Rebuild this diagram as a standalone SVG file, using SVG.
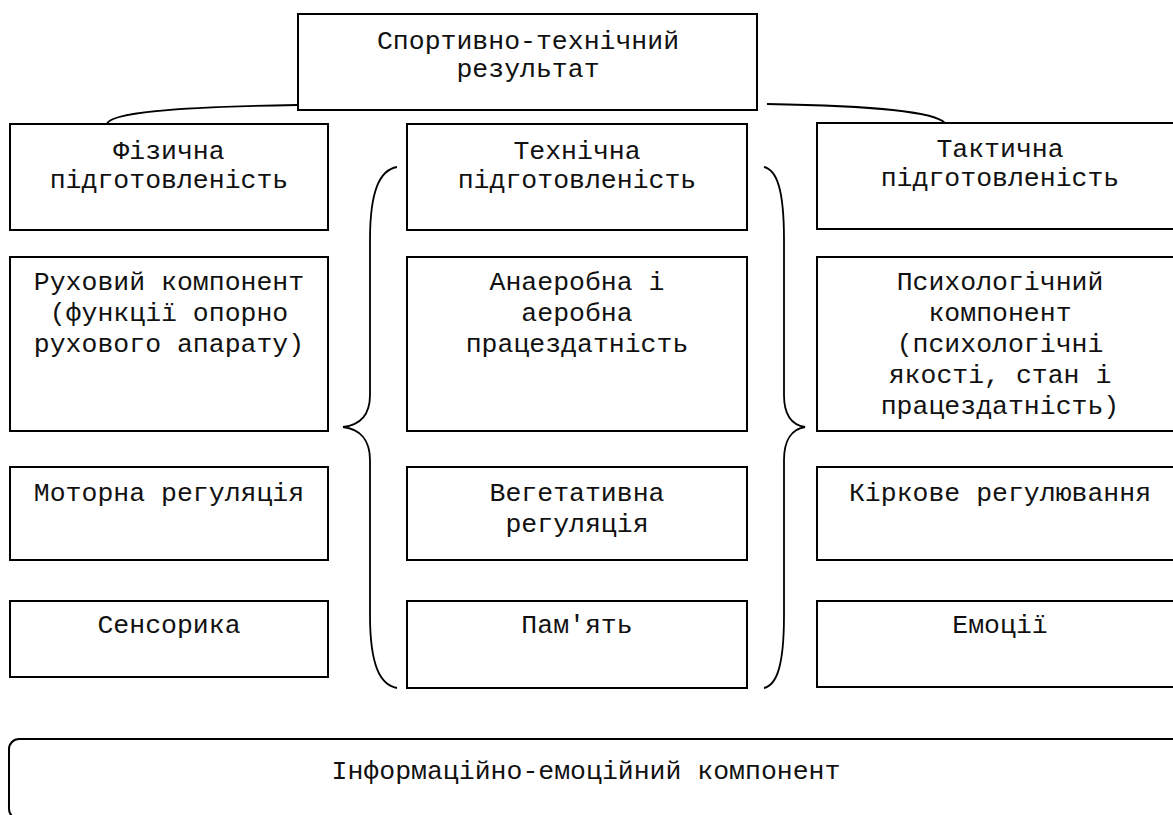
<svg xmlns="http://www.w3.org/2000/svg" width="1173" height="815" viewBox="0 0 1173 815">
<style>
.box{fill:#fff;stroke:#000;stroke-width:2}
.ln{fill:none;stroke:#000;stroke-width:1.8}
.t{font-family:"Liberation Mono","Courier New",monospace;font-size:26.5px;fill:#111;text-anchor:middle}
</style>
<rect width="1173" height="815" fill="#fff"/>
<g id="connectors">
<path class="ln" d="M297,105 C170,107 110,113 107,124"/>
<path class="ln" d="M767,104 C880,106 935,112 945,123"/>
<path class="ln" d="M397,167 C380,170 370,190 370,240 L370,395 C370,415 360,425 343,427 C360,429 370,440 370,460 L370,615 C370,665 380,685 397,688"/>
<path class="ln" d="M764,167 C777,170 784,190 784,240 L784,395 C784,415 792,425 805,427 C792,429 784,440 784,460 L784,615 C784,665 777,685 764,688"/>
</g>
<g id="result">
<rect class="box" x="298" y="14" width="459" height="96"/>
<text class="t" x="528" y="49">Спортивно-технічний</text>
<text class="t" x="528" y="77">результат</text>
</g>
<g id="physical">
<rect class="box" x="10" y="124" width="318" height="106"/>
<text class="t" x="169" y="159">Фізична</text>
<text class="t" x="169" y="188">підготовленість</text>
</g>
<g id="technical">
<rect class="box" x="407" y="124" width="340" height="106"/>
<text class="t" x="577" y="159">Технічна</text>
<text class="t" x="577" y="188">підготовленість</text>
</g>
<g id="tactical">
<rect class="box" x="817" y="123" width="370" height="106"/>
<text class="t" x="1000" y="157">Тактична</text>
<text class="t" x="1000" y="186">підготовленість</text>
</g>
<g id="motor">
<rect class="box" x="10" y="257" width="318" height="174"/>
<text class="t" x="169" y="290">Руховий компонент</text>
<text class="t" x="169" y="321">(функції опорно</text>
<text class="t" x="169" y="352">рухового апарату)</text>
</g>
<g id="aerobic">
<rect class="box" x="407" y="257" width="340" height="174"/>
<text class="t" x="577" y="290">Анаеробна і</text>
<text class="t" x="577" y="321">аеробна</text>
<text class="t" x="577" y="352">працездатність</text>
</g>
<g id="psych">
<rect class="box" x="817" y="257" width="370" height="174"/>
<text class="t" x="1000" y="290">Психологічний</text>
<text class="t" x="1000" y="321">компонент</text>
<text class="t" x="1000" y="352">(психологічні</text>
<text class="t" x="1000" y="383">якості, стан і</text>
<text class="t" x="1000" y="414">працездатність)</text>
</g>
<g id="motor-reg">
<rect class="box" x="10" y="467" width="318" height="93"/>
<text class="t" x="169" y="501">Моторна регуляція</text>
</g>
<g id="veget-reg">
<rect class="box" x="407" y="467" width="340" height="93"/>
<text class="t" x="577" y="501">Вегетативна</text>
<text class="t" x="577" y="532">регуляція</text>
</g>
<g id="cortical">
<rect class="box" x="817" y="467" width="370" height="93"/>
<text class="t" x="1000" y="501">Кіркове регулювання</text>
</g>
<g id="sensor">
<rect class="box" x="10" y="601" width="318" height="76"/>
<text class="t" x="169" y="633">Сенсорика</text>
</g>
<g id="memory">
<rect class="box" x="407" y="601" width="340" height="87"/>
<text class="t" x="577" y="633">Пам'ять</text>
</g>
<g id="emotions">
<rect class="box" x="817" y="601" width="370" height="86"/>
<text class="t" x="1000" y="633">Емоції</text>
</g>
<g id="info">
<rect class="box" x="9" y="739" width="1175" height="80" rx="10"/>
<text class="t" x="586" y="779">Інформаційно-емоційний компонент</text>
</g>
</svg>
